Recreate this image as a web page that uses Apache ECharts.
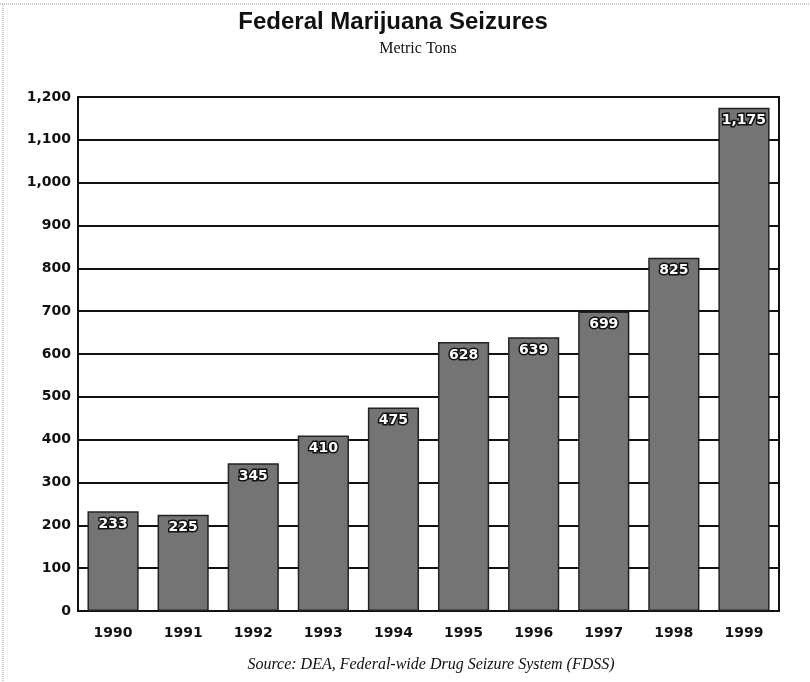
<!DOCTYPE html>
<html><head><meta charset="utf-8">
<script src="https://cdn.jsdelivr.net/npm/echarts@6/dist/echarts.min.js"></script>
<style>html,body{margin:0;padding:0;background:#fff;}#c{width:810px;height:682px;}</style>
</head><body><div id="c"></div>
<script>
var years = ['1990','1991','1992','1993','1994','1995','1996','1997','1998','1999'];
var tons = [233, 225, 345, 410, 475, 628, 639, 699, 825, 1175];
var titleText = 'Federal Marijuana Seizures';
var subtitleText = 'Metric Tons';
var sourceText = 'Source: DEA, Federal-wide Drug Seizure System (FDSS)';

function fmt(v){ return String(v).replace(/\B(?=(\d{3})+(?!\d))/g, ','); }

var chart = echarts.init(document.getElementById('c'), null, {renderer:'canvas'});
chart.setOption({
  backgroundColor:'#fff',
  animation:false,
  title:[
    {text:titleText, left:388, top:5, textAlign:'center',
     textStyle:{fontFamily:'Liberation Sans Narrow, Liberation Sans, Arial', fontWeight:'bold', fontSize:24, color:'#111'}},
    {text:subtitleText, left:413, top:36, textAlign:'center',
     textStyle:{fontFamily:'Liberation Serif, serif', fontWeight:'normal', fontSize:16, color:'#111'}},
    {text:sourceText, left:426, top:652, textAlign:'center',
     textStyle:{fontFamily:'Liberation Serif, serif', fontStyle:'italic', fontWeight:'normal', fontSize:16, color:'#111'}}
  ],
  graphic:[
    {type:'line', shape:{x1:0,y1:4,x2:810,y2:4}, style:{stroke:'#999', lineWidth:1, lineDash:[1,1]}},
    {type:'line', shape:{x1:3,y1:4,x2:3,y2:682}, style:{stroke:'#999', lineWidth:1, lineDash:[1,1]}}
  ],
  grid:{left:78, right:31, top:97, bottom:71, show:true, borderColor:'#111', borderWidth:2, backgroundColor:'transparent'},
  xAxis:{type:'category', data:years,
    axisLine:{show:true, lineStyle:{color:'#111', width:2}},
    axisTick:{show:false},
    axisLabel:{margin:15, fontFamily:'DejaVu Sans', fontWeight:'bold', fontSize:14, color:'#111'}},
  yAxis:{type:'value', min:0, max:1200, interval:100,
    axisLine:{show:true, lineStyle:{color:'#111', width:2}},
    axisTick:{show:false},
    splitLine:{show:true, lineStyle:{color:'#111', width:2}},
    axisLabel:{margin:7, fontFamily:'DejaVu Sans', fontWeight:'bold', fontSize:14, color:'#111',
      formatter:function(v){return fmt(v);}}},
  series:[{type:'bar', data:tons, barCategoryGap:'27%',
    itemStyle:{color:'#747474', borderColor:'#222', borderWidth:1.5},
    label:{show:true, position:'insideTop', distance:6, formatter:function(p){return fmt(p.value);},
      fontFamily:'DejaVu Sans', fontWeight:'bold', fontSize:14, color:'#fff',
      textBorderColor:'#111', textBorderWidth:3}
  }]
});
</script></body></html>
